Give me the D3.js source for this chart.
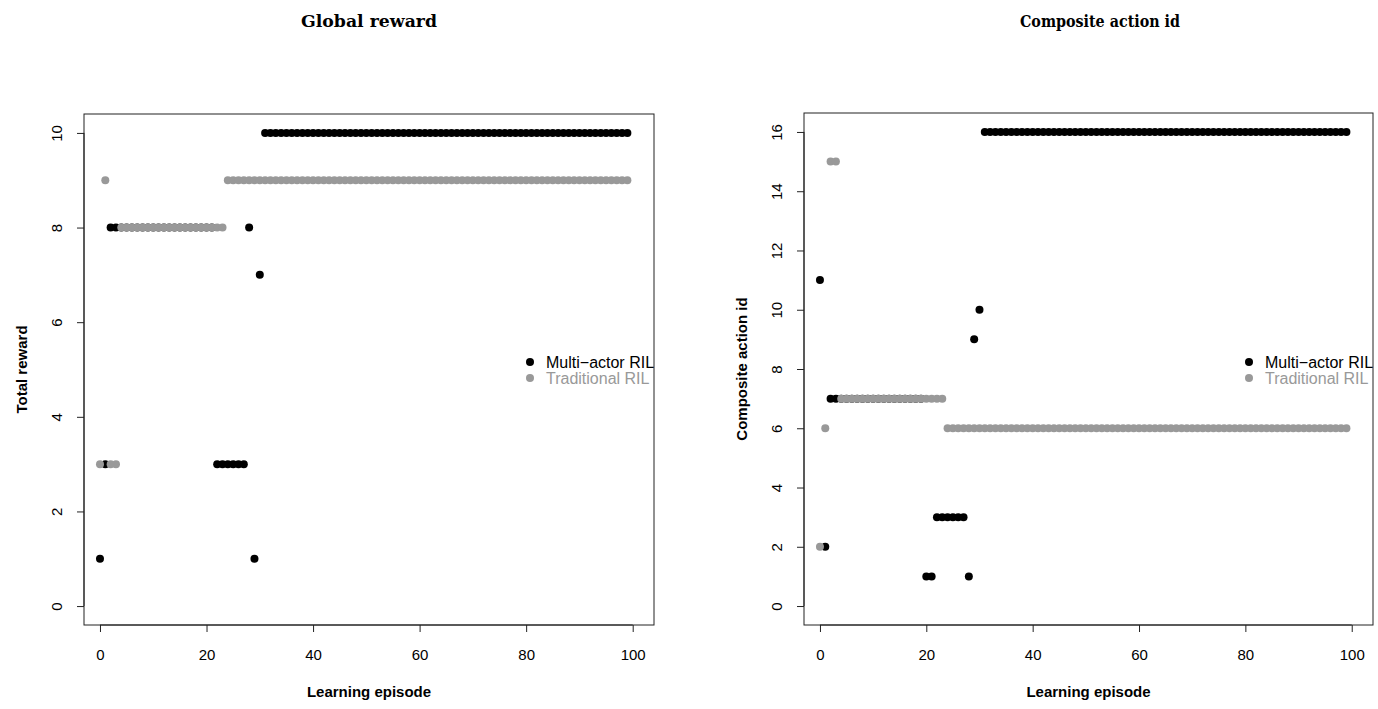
<!DOCTYPE html>
<html>
<head>
<meta charset="utf-8">
<script src="https://cdn.jsdelivr.net/npm/d3@7"></script>
<style>
  html, body { margin: 0; padding: 0; background: #fff; }
  svg { display: block; }
</style>
</head>
<body>
<svg id="fig" width="1378" height="709"></svg>
<script>
// Learning episodes (x values shared by both panels)
const episodes = [
  0,1,2,3,4,5,6,7,8,9,
  10,11,12,13,14,15,16,17,18,19,
  20,21,22,23,24,25,26,27,28,29,
  30,31,32,33,34,35,36,37,38,39,
  40,41,42,43,44,45,46,47,48,49,
  50,51,52,53,54,55,56,57,58,59,
  60,61,62,63,64,65,66,67,68,69,
  70,71,72,73,74,75,76,77,78,79,
  80,81,82,83,84,85,86,87,88,89,
  90,91,92,93,94,95,96,97,98,99
];

// Total reward per episode
const rewardMulti = [
  1,3,8,8,8,8,8,8,8,8,
  8,8,8,8,8,8,8,8,8,8,
  8,8,3,3,3,3,3,3,8,1,
  7,10,10,10,10,10,10,10,10,10,
  10,10,10,10,10,10,10,10,10,10,
  10,10,10,10,10,10,10,10,10,10,
  10,10,10,10,10,10,10,10,10,10,
  10,10,10,10,10,10,10,10,10,10,
  10,10,10,10,10,10,10,10,10,10,
  10,10,10,10,10,10,10,10,10,10
];
const rewardTrad = [
  3,9,3,3,8,8,8,8,8,8,
  8,8,8,8,8,8,8,8,8,8,
  8,8,8,8,9,9,9,9,9,9,
  9,9,9,9,9,9,9,9,9,9,
  9,9,9,9,9,9,9,9,9,9,
  9,9,9,9,9,9,9,9,9,9,
  9,9,9,9,9,9,9,9,9,9,
  9,9,9,9,9,9,9,9,9,9,
  9,9,9,9,9,9,9,9,9,9,
  9,9,9,9,9,9,9,9,9,9
];

// Composite action id per episode
const actionMulti = [
  11,2,7,7,7,7,7,7,7,7,
  7,7,7,7,7,7,7,7,7,7,
  1,1,3,3,3,3,3,3,1,9,
  10,16,16,16,16,16,16,16,16,16,
  16,16,16,16,16,16,16,16,16,16,
  16,16,16,16,16,16,16,16,16,16,
  16,16,16,16,16,16,16,16,16,16,
  16,16,16,16,16,16,16,16,16,16,
  16,16,16,16,16,16,16,16,16,16,
  16,16,16,16,16,16,16,16,16,16
];
const actionTrad = [
  2,6,15,15,7,7,7,7,7,7,
  7,7,7,7,7,7,7,7,7,7,
  7,7,7,7,6,6,6,6,6,6,
  6,6,6,6,6,6,6,6,6,6,
  6,6,6,6,6,6,6,6,6,6,
  6,6,6,6,6,6,6,6,6,6,
  6,6,6,6,6,6,6,6,6,6,
  6,6,6,6,6,6,6,6,6,6,
  6,6,6,6,6,6,6,6,6,6,
  6,6,6,6,6,6,6,6,6,6
];

const xTicks = [0, 20, 40, 60, 80, 100];
const rewardTicks = [0, 2, 4, 6, 8, 10];
const actionTicks = [0, 2, 4, 6, 8, 10, 12, 14, 16];
const seriesNames = ["Multi\u2212actor RIL", "Traditional RIL"];
const seriesColors = ["#000000", "#999999"];

const svg = d3.select("#fig");
const sans = "'Liberation Sans', Arial, Helvetica, sans-serif";
const fs = "15px";

function panel(cfg) {
  const { id, box, yMax, yTicks, multi, trad, title, titleX, titleWidth, yLabel, yLabelX, legendX } = cfg;
  const x = d3.scaleLinear().domain([-3, 104]).range([box.left, box.right]);
  const pad = yMax * 0.04;
  const y = d3.scaleLinear().domain([-pad, yMax + pad]).range([box.bottom, box.top]);
  const g = svg.append("g");

  // title
  g.append("text")
    .attr("x", titleX).attr("y", 27)
    .attr("text-anchor", "middle")
    .attr("textLength", titleWidth)
    .attr("lengthAdjust", "spacingAndGlyphs")
    .style("font-family", "'DejaVu Serif', 'Liberation Serif', serif")
    .style("font-weight", "bold")
    .style("font-size", "16px")
    .text(title);

  // plot box
  g.append("rect")
    .attr("x", box.left).attr("y", box.top)
    .attr("width", box.right - box.left).attr("height", box.bottom - box.top)
    .attr("fill", "none").attr("stroke", "#222").attr("stroke-width", 1);

  // x axis
  const xAxis = d3.axisBottom(x).tickValues(xTicks).tickSize(7).tickPadding(17).tickFormat(d3.format("d"));
  const xg = g.append("g").attr("transform", `translate(0,${box.bottom})`).call(xAxis);
  xg.select(".domain").attr("d", `M${x(xTicks[0])},0H${x(xTicks[xTicks.length - 1])}`).attr("stroke", "#222");
  xg.selectAll(".tick line").attr("stroke", "#222");
  xg.selectAll("text").style("font-family", sans).style("font-size", fs).attr("fill", "#000");

  // y axis, labels rotated parallel to the axis
  const yAxis = d3.axisLeft(y).tickValues(yTicks).tickSize(7).tickFormat(d3.format("d"));
  const yg = g.append("g").attr("transform", `translate(${box.left},0)`).call(yAxis);
  yg.select(".domain").attr("d", `M0,${y(yTicks[0])}V${y(yTicks[yTicks.length - 1])}`).attr("stroke", "#222");
  yg.selectAll(".tick line").attr("stroke", "#222");
  yg.selectAll("text")
    .attr("x", null).attr("dy", null)
    .attr("text-anchor", "middle")
    .attr("transform", "translate(-22,0) rotate(-90)")
    .style("font-family", sans).style("font-size", fs).attr("fill", "#000");

  // axis titles
  g.append("text")
    .attr("x", (box.left + box.right) / 2).attr("y", 697)
    .attr("text-anchor", "middle")
    .style("font-family", sans).style("font-weight", "bold").style("font-size", fs)
    .text("Learning episode");
  g.append("text")
    .attr("transform", `translate(${yLabelX},${(box.top + box.bottom) / 2}) rotate(-90)`)
    .attr("text-anchor", "middle")
    .style("font-family", sans).style("font-weight", "bold").style("font-size", fs)
    .text(yLabel);

  // points: multi-actor first, traditional drawn over it
  [multi, trad].forEach((vals, k) => {
    g.append("g").selectAll("circle")
      .data(episodes.map((e, i) => [e, vals[i]]))
      .join("circle")
      .attr("cx", d => x(d[0]))
      .attr("cy", d => y(d[1]))
      .attr("r", 4)
      .attr("fill", seriesColors[k]);
  });

  // legend, clipped by the plot box
  const clipId = "clip-" + id;
  svg.append("clipPath").attr("id", clipId)
    .append("rect")
    .attr("x", box.left).attr("y", box.top)
    .attr("width", box.right - box.left).attr("height", box.bottom - box.top);
  const lg = g.append("g").attr("clip-path", `url(#${clipId})`);
  seriesNames.forEach((name, k) => {
    const cy = 362 + k * 16;
    lg.append("circle").attr("cx", legendX).attr("cy", cy).attr("r", 4).attr("fill", seriesColors[k]);
    lg.append("text")
      .attr("x", legendX + 16).attr("y", cy + 5.5)
      .style("font-family", sans).style("font-size", "16px")
      .attr("fill", seriesColors[k])
      .text(name);
  });
}

panel({
  id: "reward",
  box: { left: 84, right: 654, top: 114, bottom: 625 },
  yMax: 10, yTicks: rewardTicks,
  multi: rewardMulti, trad: rewardTrad,
  title: "Global reward", titleX: 369, titleWidth: 136,
  yLabel: "Total reward", yLabelX: 27,
  legendX: 530
});

panel({
  id: "action",
  box: { left: 804, right: 1373, top: 113, bottom: 625 },
  yMax: 16, yTicks: actionTicks,
  multi: actionMulti, trad: actionTrad,
  title: "Composite action id", titleX: 1100, titleWidth: 160,
  yLabel: "Composite action id", yLabelX: 747,
  legendX: 1249
});
</script>
</body>
</html>
